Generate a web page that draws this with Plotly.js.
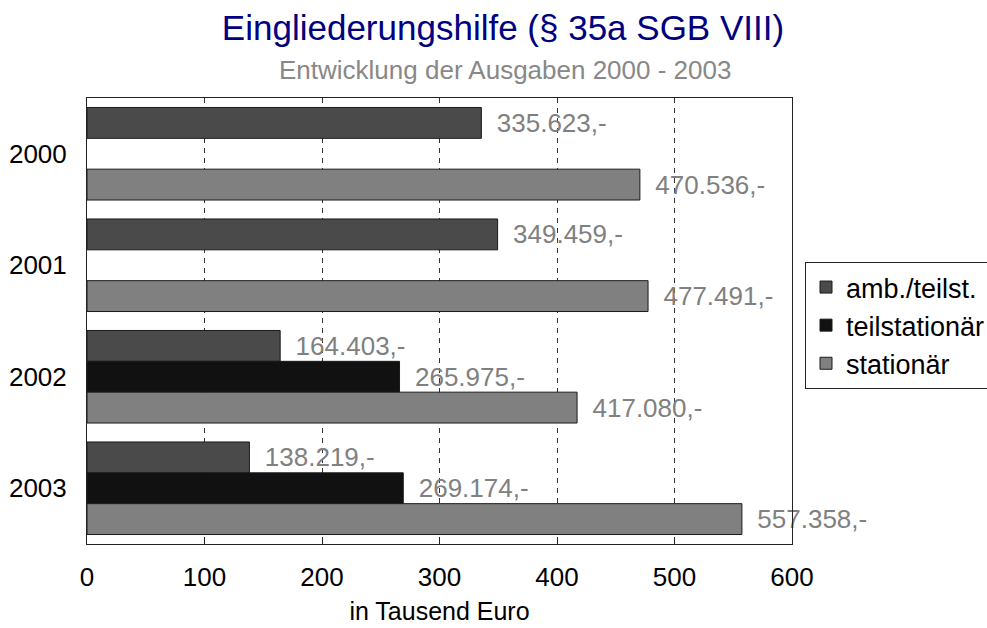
<!DOCTYPE html>
<html>
<head>
<meta charset="utf-8">
<script src="https://cdn.plot.ly/plotly-3.0.1.min.js"></script>
<style>html,body{margin:0;padding:0;background:#fff;}#chart{width:987px;height:628px;}</style>
</head>
<body>
<div id="chart"></div>
<script>
const years = ['2000', '2001', '2002', '2003'];
const seriesNames = ['amb./teilst.', 'teilstationär', 'stationär'];
const ambTeilst = [335.623, 349.459, 164.403, 138.219];
const teilstationaer = [null, null, 265.975, 269.174];
const stationaer = [470.536, 477.491, 417.080, 557.358];
const xTicks = [0, 100, 200, 300, 400, 500, 600];
const colors = ['#4a4a4a', '#111111', '#808080'];

function fmt(v) {
  if (v === null) return '';
  const euros = Math.round(v * 1000);
  const s = String(euros).replace(/\B(?=(\d{3})+(?!\d))/g, '.');
  return '\u00a0\u2009' + s + ',-';
}

const seriesValues = [ambTeilst, teilstationaer, stationaer];
const font = 'Liberation Sans, Arial, sans-serif';

const traces = seriesValues.map((vals, i) => ({
  type: 'bar',
  orientation: 'h',
  name: seriesNames[i],
  y: years,
  x: vals,
  text: vals.map(fmt),
  textposition: 'outside',
  cliponaxis: false,
  constraintext: 'none',
  textfont: {family: font, size: 26, color: '#808080'},
  marker: {color: colors[i], line: {color: '#1a1a1a', width: 1}},
  legendgroup: 'g' + i,
  hoverinfo: 'x+name'
}));

const layout = {
  width: 987,
  height: 628,
  margin: {l: 87, r: 195, t: 98, b: 84, autoexpand: false},
  paper_bgcolor: '#ffffff',
  plot_bgcolor: '#ffffff',
  font: {family: font, size: 26, color: '#000'},
  barmode: 'group',
  bargap: 0.17,
  bargroupgap: 0,
  title: {
    text: 'Eingliederungshilfe (§ 35a SGB VIII)',
    font: {family: font, size: 35, color: '#000080'},
    x: 503 / 987, xanchor: 'center', xref: 'container',
    y: 1 - 28 / 628, yanchor: 'middle', yref: 'container'
  },
  annotations: [{
    text: 'Entwicklung der Ausgaben 2000 - 2003',
    xref: 'paper', yref: 'paper',
    x: (505 - 87) / 705, y: (544 - 70) / 446,
    xanchor: 'center', yanchor: 'middle',
    showarrow: false,
    font: {family: font, size: 26, color: '#888888'}
  }],
  xaxis: {
    range: [0, 600],
    tickvals: xTicks,
    ticktext: xTicks.map(String),
    ticks: 'inside',
    ticklen: 7,
    tickcolor: '#222',
    ticklabelstandoff: 10,
    showline: true,
    linecolor: '#222',
    linewidth: 1,
    mirror: true,
    showgrid: true,
    gridcolor: '#333',
    griddash: '5px,5px',
    gridwidth: 1,
    zeroline: false,
    tickfont: {family: font, size: 26, color: '#000'},
    title: {text: 'in Tausend Euro', font: {family: font, size: 25, color: '#000'}, standoff: 11}
  },
  yaxis: {
    type: 'category',
    autorange: 'reversed',
    showline: true,
    linecolor: '#222',
    linewidth: 1,
    mirror: true,
    showgrid: false,
    ticks: '',
    ticklabelstandoff: 14,
    tickfont: {family: font, size: 26, color: '#000'}
  },
  legend: {
    x: (805 - 87) / 705, xanchor: 'left',
    y: (544 - 262) / 446, yanchor: 'top',
    bgcolor: '#ffffff',
    bordercolor: '#222',
    borderwidth: 1,
    font: {family: font, size: 27, color: '#000'},
    traceorder: 'grouped',
    tracegroupgap: 0,
    itemwidth: 30
  },
  showlegend: true
};

Plotly.newPlot('chart', traces, layout, {displayModeBar: false, staticPlot: true});
</script>
</body>
</html>
